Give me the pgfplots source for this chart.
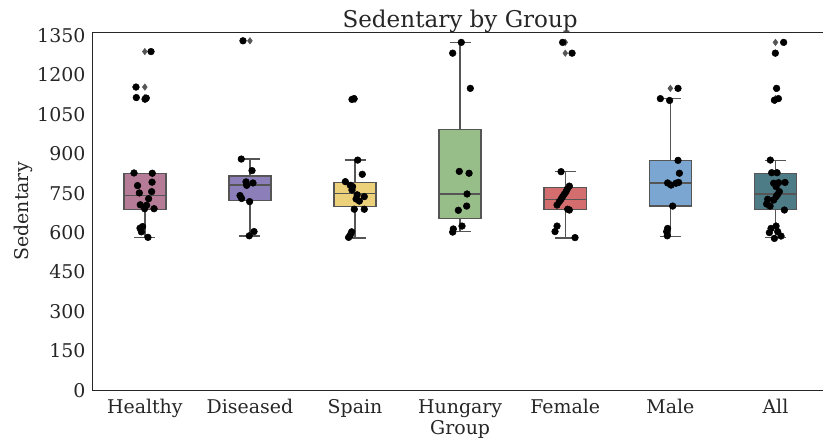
\documentclass[border=0pt]{standalone}
\usepackage{fontspec}
\setmainfont{DejaVu Serif}
\usepackage{pgfplots}
\pgfplotsset{compat=1.18}
\definecolor{cHealthy}{RGB}{181,123,151}
\definecolor{cDiseased}{RGB}{140,127,185}
\definecolor{cSpain}{RGB}{236,209,122}
\definecolor{cHungary}{RGB}{151,189,136}
\definecolor{cFemale}{RGB}{212,110,110}
\definecolor{cMale}{RGB}{122,166,209}
\definecolor{cAll}{RGB}{78,124,134}
\definecolor{edge}{RGB}{85,85,85}
\definecolor{spine}{RGB}{38,38,38}
\pgfplotsset{whisk/.style={draw=edge, line width=1.1pt, mark=none},
  boxs/.style={draw=edge, line width=1.1pt, mark=none}}
% one line segment of a box plot: (x1,y1) -- (x2,y2)
\newcommand\seg[4]{\addplot[whisk] coordinates {(#1,#2) (#3,#4)};}
\begin{document}
\begin{tikzpicture}
\begin{axis}[name=ax, scale only axis, width=551.8pt, height=268.2pt,
  xmin=-0.5, xmax=6.5, ymin=0, ymax=1361,
  axis line style={draw=spine, line width=0.8pt},
  xtick={0,...,6},
  xticklabels={Healthy,Diseased,Spain,Hungary,Female,Male,All},
  ytick={0,150,...,1350},
  tick style={draw=none},
  /pgf/number format/assume math mode=true,
  /pgf/number format/1000 sep={},
  ticklabel style={font=\fontsize{14.2}{17}\selectfont, text=spine},
  xticklabel style={anchor=base, inner sep=0pt, yshift=-17.3pt},
  yticklabel style={anchor=east, inner sep=0pt, xshift=-4.95pt},
  title={Sedentary by Group},
  every axis title/.style={at={(axis description cs:0.5,1.0151)}, anchor=base, inner sep=0pt, font=\fontsize{17.3}{20}\selectfont, text=spine},
  xlabel={Group},
  every axis x label/.style={at={(axis description cs:0.5,-0.1223)}, anchor=base, inner sep=0pt, font=\fontsize{14.2}{17}\selectfont, text=spine},
  ylabel={Sedentary},
  every axis y label/.style={at={(axis description cs:-0.0868,0.5)}, rotate=90, anchor=base, inner sep=0pt, font=\fontsize{14.2}{17}\selectfont, text=spine},
]
% ---- Healthy: lw 582, q1 688, med 741, q3 826, uw 826
\seg{0}{582}{0}{688} \seg{0}{826}{0}{826}
\seg{-0.1}{582}{0.1}{582} \seg{-0.1}{826}{0.1}{826}
\addplot[boxs, fill=cHealthy] coordinates {(-0.2,688) (0.2,688) (0.2,826) (-0.2,826)} -- cycle;
\seg{-0.2}{741}{0.2}{741}
% ---- Diseased: 588, 723, 781, 816, 880
\seg{1}{588}{1}{723} \seg{1}{816}{1}{880}
\seg{0.9}{588}{1.1}{588} \seg{0.9}{880}{1.1}{880}
\addplot[boxs, fill=cDiseased] coordinates {(0.8,723) (1.2,723) (1.2,816) (0.8,816)} -- cycle;
\seg{0.8}{781}{1.2}{781}
% ---- Spain: 580, 699, 748, 790, 876
\seg{2}{580}{2}{699} \seg{2}{790}{2}{876}
\seg{1.9}{580}{2.1}{580} \seg{1.9}{876}{2.1}{876}
\addplot[boxs, fill=cSpain] coordinates {(1.8,699) (2.2,699) (2.2,790) (1.8,790)} -- cycle;
\seg{1.8}{748}{2.2}{748}
% ---- Hungary: 604, 654, 747, 993, 1324
\seg{3}{604}{3}{654} \seg{3}{993}{3}{1324}
\seg{2.9}{604}{3.1}{604} \seg{2.9}{1324}{3.1}{1324}
\addplot[boxs, fill=cHungary] coordinates {(2.8,654) (3.2,654) (3.2,993) (2.8,993)} -- cycle;
\seg{2.8}{747}{3.2}{747}
% ---- Female: 580, 687, 727, 772, 833
\seg{4}{580}{4}{687} \seg{4}{772}{4}{833}
\seg{3.9}{580}{4.1}{580} \seg{3.9}{833}{4.1}{833}
\addplot[boxs, fill=cFemale] coordinates {(3.8,687) (4.2,687) (4.2,772) (3.8,772)} -- cycle;
\seg{3.8}{727}{4.2}{727}
% ---- Male: 586, 701, 789, 875, 1110
\seg{5}{586}{5}{701} \seg{5}{875}{5}{1110}
\seg{4.9}{586}{5.1}{586} \seg{4.9}{1110}{5.1}{1110}
\addplot[boxs, fill=cMale] coordinates {(4.8,701) (5.2,701) (5.2,875) (4.8,875)} -- cycle;
\seg{4.8}{789}{5.2}{789}
% ---- All: 581, 687, 747, 824, 875
\seg{6}{581}{6}{687} \seg{6}{824}{6}{875}
\seg{5.9}{581}{6.1}{581} \seg{5.9}{875}{6.1}{875}
\addplot[boxs, fill=cAll] coordinates {(5.8,687) (6.2,687) (6.2,824) (5.8,824)} -- cycle;
\seg{5.8}{747}{6.2}{747}
% fliers
\addplot[only marks, mark=diamond*, mark size=2.4pt, mark options={draw=edge, fill=edge}] coordinates {
(0,1289) (0,1154) (0,1114) (0,1108)
(1,1330)
(2,1110) (2,1107)
(4,1324) (4,1283)
(5,1149)
(6,1324) (6,1283) (6,1149) (6,1110) (6,1104)
};
% strip points: Healthy
\addplot[only marks, mark=*, mark size=2.5pt, black] coordinates {
(0.059,1289) (-0.084,1154) (-0.081,1114) (0.002,1108) (0.014,1112)
(-0.103,827) (0.071,826) (-0.069,779) (0.069,792) (-0.052,751)
(0.065,756) (0.036,729) (-0.043,706) (0.017,704) (-0.002,691)
(0.088,691) (-0.021,623) (-0.046,617) (-0.033,603) (0.030,582)
};
% Diseased
\addplot[only marks, mark=*, mark size=2.5pt, black] coordinates {
(0.934,1330) (0.918,880) (1.020,836) (0.963,793) (0.969,780)
(1.029,789) (0.906,741) (0.921,730) (0.997,718) (1.039,604) (0.994,588)
};
% Spain
\addplot[only marks, mark=*, mark size=2.5pt, black] coordinates {
(1.971,1107) (1.990,1110) (2.025,876) (2.069,822) (1.908,794)
(1.955,780) (1.977,775) (1.971,762) (2.088,737) (2.020,744) (2.010,728)
(2.041,720) (1.993,689) (2.088,689) (1.968,603) (1.955,591) (1.939,582)
};
% Hungary
\addplot[only marks, mark=*, mark size=2.5pt, black] coordinates {
(3.011,1324) (2.929,1283) (3.097,1149) (2.992,833) (3.085,826)
(3.066,747) (3.062,701) (2.983,685) (3.018,625) (2.935,614) (2.929,602)
};
% Female
\addplot[only marks, mark=*, mark size=2.5pt, black] coordinates {
(3.975,1324) (4.065,1283) (3.960,832) (4.039,777) (4.020,766)
(4.008,756) (3.991,746) (3.975,737) (3.960,727) (3.944,718)
(3.922,705) (4.023,689) (4.039,686) (3.922,625) (3.903,604) (4.093,581)
};
% Male
\addplot[only marks, mark=*, mark size=2.5pt, black] coordinates {
(5.073,1149) (4.905,1110) (4.993,1103) (5.073,875) (5.086,826)
(4.974,789) (5.007,781) (5.054,788) (5.079,791) (5.022,701)
(4.974,616) (4.965,604) (4.971,588)
};
% All
\addplot[only marks, mark=*, mark size=2.5pt, black] coordinates {
(6.078,1324) (5.999,1283) (6.011,1149) (5.990,1104) (6.028,1110)
(5.951,876) (5.964,828) (6.015,828) (5.983,788) (6.030,790)
(6.091,791) (6.006,775) (6.037,756) (6.020,745) (6.006,737) (5.983,724)
(5.926,727) (5.916,709) (5.949,701) (6.085,686) (5.958,616)
(6.006,625) (6.021,604) (5.942,600) (6.053,587) (5.990,578)
};
\end{axis}
\pgfresetboundingbox
\useasboundingbox ([xshift=-69.2pt,yshift=-40.3pt]ax.south west) rectangle ([xshift=-3.75pt,yshift=24.5pt]ax.north east);
\end{tikzpicture}
\end{document}
